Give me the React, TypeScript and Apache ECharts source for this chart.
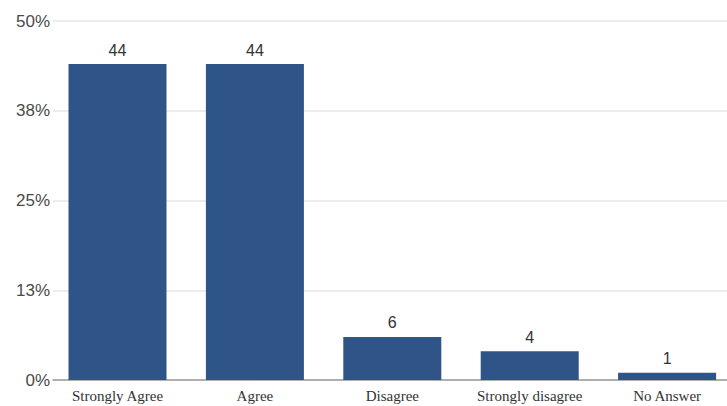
import React, { useEffect, useRef } from "react";
import * as echarts from "echarts";

const categories = ["Strongly Agree", "Agree", "Disagree", "Strongly disagree", "No Answer"];
const values = [44, 44, 6, 4, 1];
const yMin = 0;
const yMax = 50;
const yInterval = 12.5;

export default function App() {
  const ref = useRef<HTMLDivElement>(null);
  useEffect(() => {
    if (!ref.current) return;
    const chart = echarts.init(ref.current, undefined, { renderer: "svg" });
    chart.setOption({
      animation: false,
      backgroundColor: "#ffffff",
      grid: [
        { left: 53, right: 0, top: 21, bottom: 26, outerBoundsMode: "none" },
        { left: 48.8, width: 687, top: 21, bottom: 26, outerBoundsMode: "none" },
      ],
      xAxis: [
        {
          type: "category",
          gridIndex: 0,
          data: categories,
          axisLine: { show: true, lineStyle: { color: "#9a9a9a", width: 1.5 } },
          axisTick: { show: false },
          axisLabel: { show: false },
        },
        {
          type: "category",
          gridIndex: 1,
          data: categories,
          axisLine: { show: false },
          axisTick: { show: false },
          axisLabel: {
            show: true,
            interval: 0,
            margin: 8,
            fontFamily: "Liberation Serif",
            fontSize: 15,
            color: "#333333",
          },
        },
      ],
      yAxis: [
        {
          type: "value",
          gridIndex: 0,
          min: yMin,
          max: yMax,
          interval: yInterval,
          axisLine: { show: false },
          axisTick: { show: false },
          splitLine: { show: true, lineStyle: { color: "#e6e6e6", width: 1.5 } },
          axisLabel: {
            margin: 3,
            fontFamily: "Liberation Sans",
            fontSize: 17,
            color: "#4a4a4a",
            formatter: (v: number) => Math.round(v) + "%",
          },
        },
        {
          type: "value",
          gridIndex: 1,
          min: yMin,
          max: yMax,
          interval: yInterval,
          show: false,
          splitLine: { show: false },
        },
      ],
      series: [
        {
          type: "bar",
          xAxisIndex: 1,
          yAxisIndex: 1,
          data: values,
          barWidth: 98,
          itemStyle: { color: "#2f5487" },
          label: {
            show: true,
            position: "top",
            distance: 6,
            fontFamily: "Liberation Sans",
            fontSize: 16,
            color: "#333333",
          },
        },
      ],
    });
    return () => chart.dispose();
  }, []);
  return <div ref={ref} style={{ width: 727, height: 406, position: "absolute", left: 0, top: 0 }} />;
}
